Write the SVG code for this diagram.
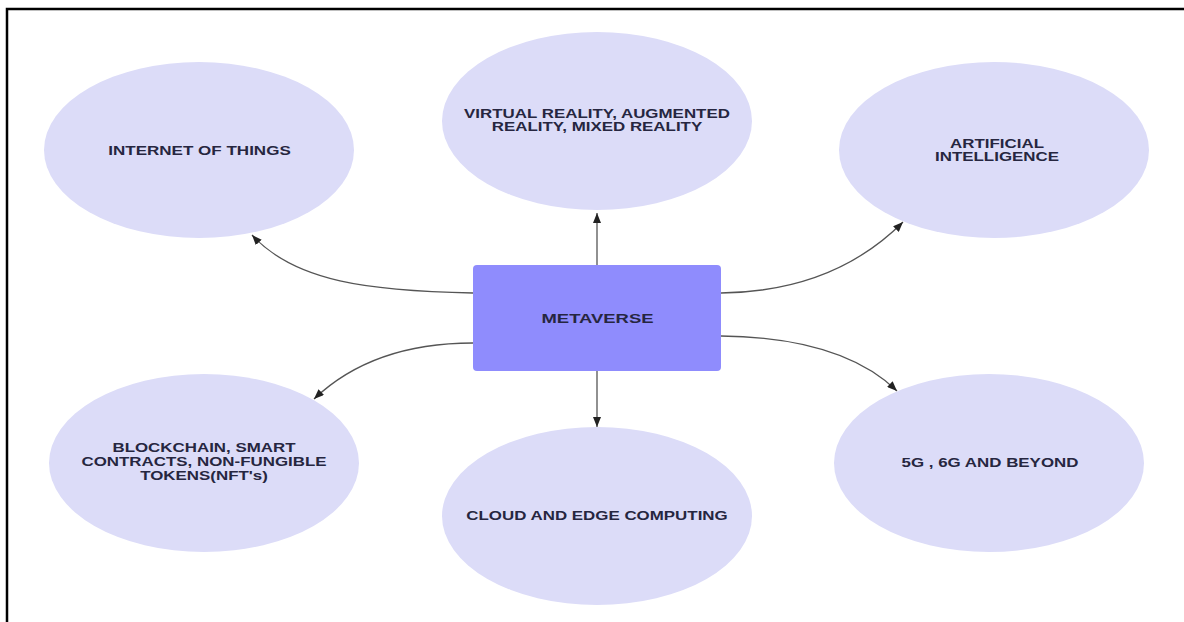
<svg xmlns="http://www.w3.org/2000/svg" width="1184" height="622" viewBox="0 0 1184 622">
  <defs>
    <marker id="arrow" viewBox="0 0 10 8" refX="10" refY="4" markerWidth="10" markerHeight="8" markerUnits="userSpaceOnUse" orient="auto">
      <path d="M0,0 L10,4 L0,8 Z" fill="#222"/>
    </marker>
    <style>
      .bg { fill: #ffffff; }
      .frame { fill: none; stroke: #000; stroke-width: 2.5; }
      .ell { fill: #dcdcf8; }
      .hub { fill: #8f8cfd; }
      .lbl { font-family: "Liberation Sans", Arial, sans-serif; font-weight: bold; font-size: 12px; fill: #262640; text-anchor: middle; }
      .hubl { font-size: 13px; }
      .conn { fill: none; stroke: #555; stroke-width: 1.3; marker-end: url(#arrow); }
    </style>
  </defs>
  <rect class="bg" x="0" y="0" width="1184" height="622"/>
  <path class="frame" d="M7,622 V9 H1184"/>

  <g id="connectors">
    <path class="conn" d="M597,265 V213"/>
    <path class="conn" d="M597,371 V427"/>
    <path class="conn" d="M473,293 C370,291 295,282 252,235"/>
    <path class="conn" d="M721,293 C800,292 860,265 903,222"/>
    <path class="conn" d="M473,343 C410,343 355,360 314,399"/>
    <path class="conn" d="M721,336 C800,337 860,355 897,391"/>
  </g>

  <g id="node-metaverse">
    <rect class="hub" x="473" y="265" width="248" height="106" rx="4"/>
    <g transform="translate(597.5,323) scale(1.42,1)"><text class="lbl hubl" x="0" y="0">METAVERSE</text></g>
  </g>

  <g id="node-iot">
    <ellipse class="ell" cx="199" cy="150" rx="155" ry="88"/>
    <g transform="translate(199.5,155) scale(1.42,1)"><text class="lbl" x="0" y="0">INTERNET OF THINGS</text></g>
  </g>

  <g id="node-xr">
    <ellipse class="ell" cx="597" cy="121" rx="155" ry="89"/>
    <g transform="translate(597,118) scale(1.41,1)"><text class="lbl" x="0" y="0">VIRTUAL REALITY, AUGMENTED</text></g>
    <g transform="translate(597,131) scale(1.41,1)"><text class="lbl" x="0" y="0">REALITY, MIXED REALITY</text></g>
  </g>

  <g id="node-ai">
    <ellipse class="ell" cx="994" cy="150" rx="155" ry="88"/>
    <g transform="translate(997,148) scale(1.41,1)"><text class="lbl" x="0" y="0">ARTIFICIAL</text></g>
    <g transform="translate(997,161) scale(1.41,1)"><text class="lbl" x="0" y="0">INTELLIGENCE</text></g>
  </g>

  <g id="node-blockchain">
    <ellipse class="ell" cx="204" cy="463" rx="155" ry="89"/>
    <g transform="translate(204,452) scale(1.41,1)"><text class="lbl" x="0" y="0">BLOCKCHAIN, SMART</text></g>
    <g transform="translate(204,466) scale(1.41,1)"><text class="lbl" x="0" y="0">CONTRACTS, NON-FUNGIBLE</text></g>
    <g transform="translate(204,480) scale(1.41,1)"><text class="lbl" x="0" y="0">TOKENS(NFT's)</text></g>
  </g>

  <g id="node-cloud">
    <ellipse class="ell" cx="597" cy="516" rx="155" ry="89"/>
    <g transform="translate(597,520) scale(1.41,1)"><text class="lbl" x="0" y="0">CLOUD AND EDGE COMPUTING</text></g>
  </g>

  <g id="node-5g">
    <ellipse class="ell" cx="989" cy="463" rx="155" ry="89"/>
    <g transform="translate(990,467) scale(1.41,1)"><text class="lbl" x="0" y="0">5G , 6G AND BEYOND</text></g>
  </g>
</svg>
